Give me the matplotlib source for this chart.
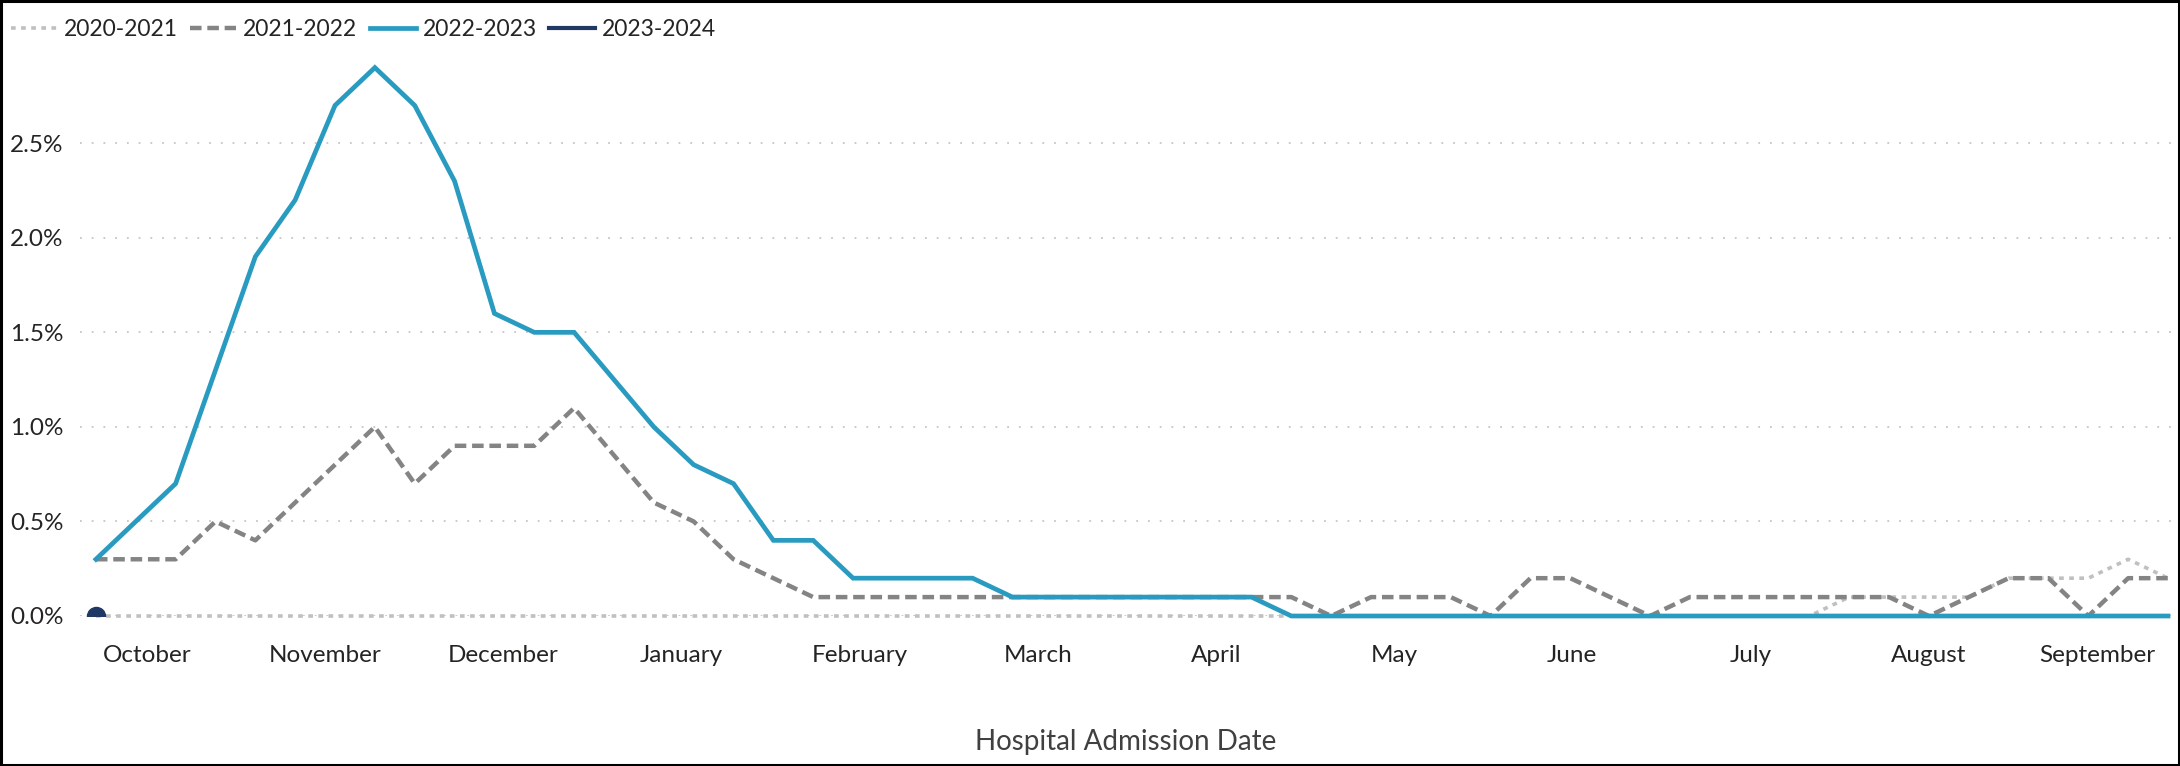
import matplotlib
matplotlib.use("Agg")
import matplotlib.pyplot as plt
from matplotlib.lines import Line2D
from matplotlib.patches import Rectangle
import numpy as np

# ---------------- data ----------------
months = ["October", "November", "December", "January", "February", "March",
          "April", "May", "June", "July", "August", "September"]

s2020_2021 = [0.0] * 44 + [0.1, 0.1, 0.1, 0.1, 0.2, 0.2, 0.2, 0.3, 0.2]

s2021_2022 = [0.3, 0.3, 0.3, 0.5, 0.4, 0.6, 0.8, 1.0, 0.7, 0.9, 0.9, 0.9, 1.1,
              0.85, 0.6, 0.5, 0.3, 0.2, 0.1,
              0.1, 0.1, 0.1, 0.1, 0.1, 0.1, 0.1, 0.1, 0.1, 0.1, 0.1, 0.1,
              0.0, 0.1, 0.1, 0.1, 0.0, 0.2, 0.2, 0.1, 0.0, 0.1, 0.1, 0.1,
              0.1, 0.1, 0.1, 0.0, 0.1, 0.2, 0.2, 0.0, 0.2, 0.2]

s2022_2023 = [0.3, 0.5, 0.7, 1.3, 1.9, 2.2, 2.7, 2.9, 2.7, 2.3, 1.6, 1.5, 1.5,
              1.25, 1.0, 0.8, 0.7, 0.4, 0.4, 0.2, 0.2, 0.2, 0.2, 0.1,
              0.1, 0.1, 0.1, 0.1, 0.1, 0.1] + [0.0] * 23

s2023_2024 = [0.0]

yticks = [0.0, 0.5, 1.0, 1.5, 2.0, 2.5]

# ---------------- styling ----------------
FONT = "Lato"
plt.rcParams["font.family"] = [FONT, "DejaVu Sans"]

C_DOT = "#C0C0C0"
C_DASH = "#848484"
C_TEAL = "#2A9BC0"
C_NAVY = "#1F3864"
C_TXT = "#252423"
C_GRID = "#C8C6C4"
FS = 17.5

fig = plt.figure(figsize=(21.8, 7.66), dpi=100)
ax = fig.add_axes([80 / 2180, 1 - 616 / 766, (2172 - 80) / 2180, (616 - 48.7) / 766])

weeks = np.arange(len(s2022_2023))

l1, = ax.plot(np.arange(len(s2020_2021)), s2020_2021, color=C_DOT, lw=2.6,
              dashes=(1.3, 1.5), solid_capstyle="butt", clip_on=False, zorder=3)
l2, = ax.plot(np.arange(len(s2021_2022)), s2021_2022, color=C_DASH, lw=3.2,
              dashes=(2.6, 1.3), clip_on=False, zorder=4)
l3, = ax.plot(weeks, s2022_2023, color=C_TEAL, lw=3.4, clip_on=False, zorder=5,
              solid_joinstyle="miter")
ax.plot(np.arange(len(s2023_2024)), s2023_2024, color=C_NAVY, lw=3.0, marker="o",
        markersize=13, clip_on=True, zorder=6)

ax.set_xlim(-0.4, 52.1)
ax.set_ylim(0, 3.0)

ax.set_yticks(yticks)
ax.set_yticklabels([f"{v:.1f}%" for v in yticks])
ax.yaxis.grid(True, color=C_GRID, lw=1.3, dashes=(1, 5.5))
ax.set_axisbelow(True)

tick_pos = [min(1.29 + 4.47 * i, 50.23) for i in range(len(months))]
ax.set_xticks(tick_pos)
ax.set_xticklabels(months)

ax.tick_params(axis="both", length=0, labelsize=FS, labelcolor=C_TXT)
ax.tick_params(axis="y", pad=12)
ax.tick_params(axis="x", pad=21)
for sp in ax.spines.values():
    sp.set_visible(False)

fig.text(1126 / 2180, 1 - 742 / 766, "Hospital Admission Date", ha="center",
         va="center", fontsize=20, color="#404040")

# legend
h_navy = Line2D([], [], color=C_NAVY, lw=3.0)
leg = fig.legend([l1, l2, l3, h_navy], ["2020-2021", "2021-2022", "2022-2023", "2023-2024"],
                 loc="center left", bbox_to_anchor=(11 / 2180, 1 - 30 / 766), ncol=4,
                 frameon=False, fontsize=16.5, handlelength=2.0, handletextpad=0.3,
                 columnspacing=0.55, borderpad=0, borderaxespad=0, labelcolor=C_TXT)

# outer border
fig.patches.append(Rectangle((0.0005, 0.001), 0.999, 0.998, transform=fig.transFigure,
                             fill=False, edgecolor="#000000", lw=2.2))

fig.savefig("out.png", dpi=100)
